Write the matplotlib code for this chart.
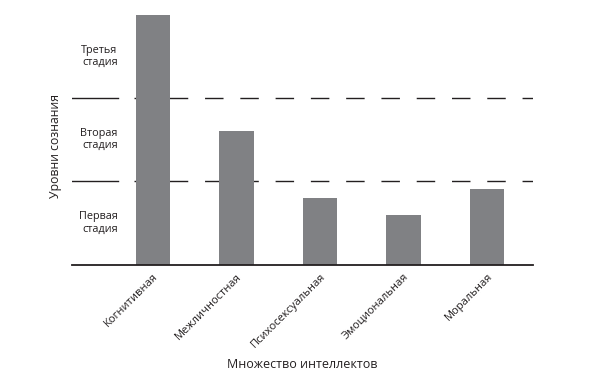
import matplotlib
matplotlib.use("Agg")
import matplotlib.pyplot as plt

plt.rcParams["font.family"] = ["Open Sans", "DejaVu Sans"]

# данные (в единицах "стадий": 1 стадия = промежуток между пунктирами)
intellects = ["Когнитивная", "Межличностная", "Психосексуальная", "Эмоциональная", "Моральная"]
levels = [3.0, 1.6, 0.8, 0.6, 0.91]
stage_bounds = [1, 2]
stage_labels = ["Первая\nстадия", "Вторая\nстадия", "Третья\nстадия"]
stage_centers = [0.5, 1.5, 2.5]

TXT = "#231f20"
BAR = "#808184"

fig = plt.figure(figsize=(6.09, 3.74), dpi=100)
ax = fig.add_axes([72 / 609, 1 - 264.5 / 374, (533 - 72) / 609, (264.5 - 15) / 374])

x = list(range(len(intellects)))
ax.bar(x, levels, width=0.41, color=BAR, zorder=2)
tr = ax.get_yaxis_transform()
for b in stage_bounds:
    # длинный штрих слева, дальше обычный пунктир
    ax.plot([0, 0.1], [b, b], color=TXT, lw=1.0, transform=tr, zorder=1)
    ax.plot([0.1345, 1], [b, b], color=TXT, lw=1.0, dashes=(13.3, 12.1),
            transform=tr, zorder=1)

ax.set_xlim(-0.97, 4.55)
ax.set_ylim(0, 3.0)
for s in ["top", "right", "left"]:
    ax.spines[s].set_visible(False)
ax.spines["bottom"].set_color(TXT)
ax.spines["bottom"].set_linewidth(1.3)
ax.set_yticks([])
ax.set_xticks(x)
ax.set_xticklabels(intellects, rotation=45, ha="right", rotation_mode="anchor",
                   fontsize=8.0, color=TXT)
ax.tick_params(axis="x", length=0, pad=5)

for yc, lab in zip(stage_centers, stage_labels):
    ax.text(-0.424, yc, lab, ha="right", va="center", fontsize=7.8, color=TXT,
            linespacing=1.15)

ax.set_ylabel("Уровни сознания", fontsize=8.8, color=TXT, labelpad=4)
ax.yaxis.set_label_coords(-0.021, 0.475)
ax.set_xlabel("Множество интеллектов", fontsize=9, color=TXT, labelpad=6)
ax.xaxis.set_label_coords(0.5, -0.374)

fig.savefig("out.png", dpi=100)
